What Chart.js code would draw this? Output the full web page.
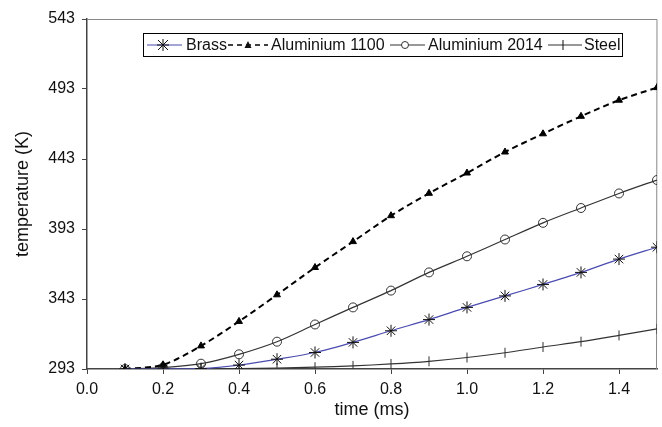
<!DOCTYPE html>
<html>
<head>
<meta charset="utf-8">
<script src="https://cdn.jsdelivr.net/npm/chart.js@4/dist/chart.umd.min.js"></script>
<style>
html,body{margin:0;padding:0;background:#fff;overflow:hidden;}
#wrap{width:664px;height:427px;}
</style>
</head>
<body>
<div id="wrap"><canvas id="c" width="664" height="427"></canvas></div>
<script>
const times = [0.1,0.2,0.3,0.4,0.5,0.6,0.7,0.8,0.9,1.0,1.1,1.2,1.3,1.4,1.5];
const brass  = [293,293,293.3,295.8,300,304.8,312,320.3,328.3,337,345.2,353.4,362,371.5,380];
const al1100 = [293,296,309.5,327,346,365.5,384,402.5,418.5,433,448,461,473.5,485,494];
const al2014 = [293,294,296.8,303.5,312.5,324.8,337,349,362,373.5,385.5,397.4,408,418.4,428];
const steel  = [293,293,293.1,293.3,293.7,294.3,295.2,296.6,298.5,301.2,304.6,308.7,312.5,317,321.7];
const seriesNames = ['Brass','Aluminium 1100','Aluminium 2014','Steel'];
const yTicks = [293,343,393,443,493,543];
const xTicks = [0.0,0.2,0.4,0.6,0.8,1.0,1.2,1.4];

const pts = arr => arr.map((v,i)=>({x:times[i], y:v}));
const FONT = 'Liberation Sans, Arial, sans-serif';

const legendPlugin = {
  id:'boxLegend',
  afterDraw(chart){
    const ctx = chart.ctx;
    ctx.save();
    ctx.fillStyle='#fff';
    ctx.fillRect(143.5,33.5,479,23);
    ctx.strokeStyle='#000'; ctx.lineWidth=1;
    ctx.strokeRect(143.5,33.5,479,23);
    const cy = 45;
    ctx.font = '16px ' + FONT;
    ctx.textBaseline='middle';
    ctx.fillStyle='#111';
    const items = [
      {x0:147,x1:182,mx:163,tx:186,color:'#4b4bb0',dash:[],mk:'star',lw:1.2},
      {x0:228,x1:268,mx:248,tx:271,color:'#000',dash:[5,4],mk:'tri',lw:1.6},
      {x0:390,x1:425,mx:405,tx:428,color:'#333',dash:[],mk:'circ',lw:1.2},
      {x0:548,x1:582,mx:563,tx:584,color:'#333',dash:[],mk:'cross',lw:1.2}
    ];
    items.forEach((it,i)=>{
      ctx.beginPath(); ctx.setLineDash(it.dash); ctx.strokeStyle=it.color; ctx.lineWidth=it.lw;
      ctx.moveTo(it.x0,cy); ctx.lineTo(it.x1,cy); ctx.stroke(); ctx.setLineDash([]);
      ctx.strokeStyle='#111'; ctx.fillStyle='#111'; ctx.lineWidth=1;
      const m=it.mx;
      if(it.mk==='star'){
        ctx.beginPath();
        ctx.moveTo(m-5,cy-5);ctx.lineTo(m+5,cy+5);
        ctx.moveTo(m-5,cy+5);ctx.lineTo(m+5,cy-5);
        ctx.moveTo(m,cy-6);ctx.lineTo(m,cy+6);
        ctx.moveTo(m-6,cy);ctx.lineTo(m+6,cy);
        ctx.stroke();
      } else if(it.mk==='tri'){
        ctx.beginPath(); ctx.moveTo(m,cy-4); ctx.lineTo(m+3.5,cy+3); ctx.lineTo(m-3.5,cy+3); ctx.closePath(); ctx.fill();
      } else if(it.mk==='circ'){
        ctx.fillStyle='#fff';
        ctx.beginPath(); ctx.arc(m,cy,3.5,0,Math.PI*2); ctx.fill(); ctx.strokeStyle='#333'; ctx.stroke();
      } else {
        ctx.beginPath(); ctx.moveTo(m,cy-5);ctx.lineTo(m,cy+5); ctx.stroke();
      }
      ctx.fillStyle='#111';
      ctx.fillText(seriesNames[i], it.tx, cy+1);
    });
    ctx.restore();
  }
};

const framePlugin = {
  id:'frame',
  beforeDatasetsDraw(chart){
    const a = chart.chartArea, ctx = chart.ctx;
    ctx.save();
    ctx.strokeStyle='#888'; ctx.lineWidth=1;
    ctx.beginPath();
    ctx.moveTo(a.left, a.top+0.5); ctx.lineTo(a.right, a.top+0.5);
    ctx.lineTo(a.right-0.5, a.bottom);
    ctx.stroke();
    ctx.restore();
  }
};

new Chart(document.getElementById('c'), {
  type:'line',
  data:{
    datasets:[
      {label:seriesNames[0], data:pts(brass), borderColor:'#4b4bb0', borderWidth:1.2,
       pointStyle:'star', pointRadius:6, pointBorderColor:'#111', pointBackgroundColor:'#111', pointBorderWidth:1, tension:0.3},
      {label:seriesNames[1], data:pts(al1100), borderColor:'#000', borderWidth:2, borderDash:[6,4],
       pointStyle:'triangle', pointRadius:4, pointBorderColor:'#000', pointBackgroundColor:'#000', pointBorderWidth:1, tension:0.3},
      {label:seriesNames[2], data:pts(al2014), borderColor:'#333', borderWidth:1.2,
       pointStyle:'circle', pointRadius:4.5, pointBorderColor:'#333', pointBackgroundColor:'rgba(255,255,255,0)', pointBorderWidth:1, tension:0.3},
      {label:seriesNames[3], data:pts(steel), borderColor:'#333', borderWidth:1.2,
       pointStyle:'line', rotation:90, pointRadius:5, pointBorderColor:'#333', pointBorderWidth:1, tension:0.3}
    ]
  },
  options:{
    responsive:false, animation:false,
    layout:{padding:{left:0,right:0,top:19,bottom:0}},
    plugins:{legend:{display:false}, tooltip:{enabled:false}},
    scales:{
      x:{
        type:'linear', min:0, max:1.5,
        afterBuildTicks(axis){ axis.ticks = xTicks.map(v=>({value:v})); },
        afterFit(s){ s.height = 58; },
        border:{display:true, color:'#444', width:1.5},
        grid:{display:true, drawOnChartArea:false, drawTicks:true, tickLength:5, tickColor:'#444'},
        ticks:{font:{family:FONT,size:16}, color:'#111', padding:6, maxRotation:0, autoSkip:false,
               callback:v=>Number(v).toFixed(1)},
        title:{display:true, text:'time (ms)', font:{family:FONT,size:18}, color:'#111', padding:{top:0,bottom:6}}
      },
      y:{
        min:293, max:543,
        afterBuildTicks(axis){ axis.ticks = yTicks.map(v=>({value:v})); },
        afterFit(s){ s.width = 87; },
        border:{display:true, color:'#444', width:1.5},
        grid:{display:true, drawOnChartArea:false, drawTicks:true, tickLength:5, tickColor:'#444'},
        ticks:{font:{family:FONT,size:16}, color:'#111', padding:7, autoSkip:false,
               callback:v=>String(Math.round(v))},
        title:{display:true, text:'temperature (K)', font:{family:FONT,size:18}, color:'#111', padding:{top:12,bottom:0}}
      }
    }
  },
  plugins:[framePlugin, legendPlugin]
});
</script>
</body>
</html>
